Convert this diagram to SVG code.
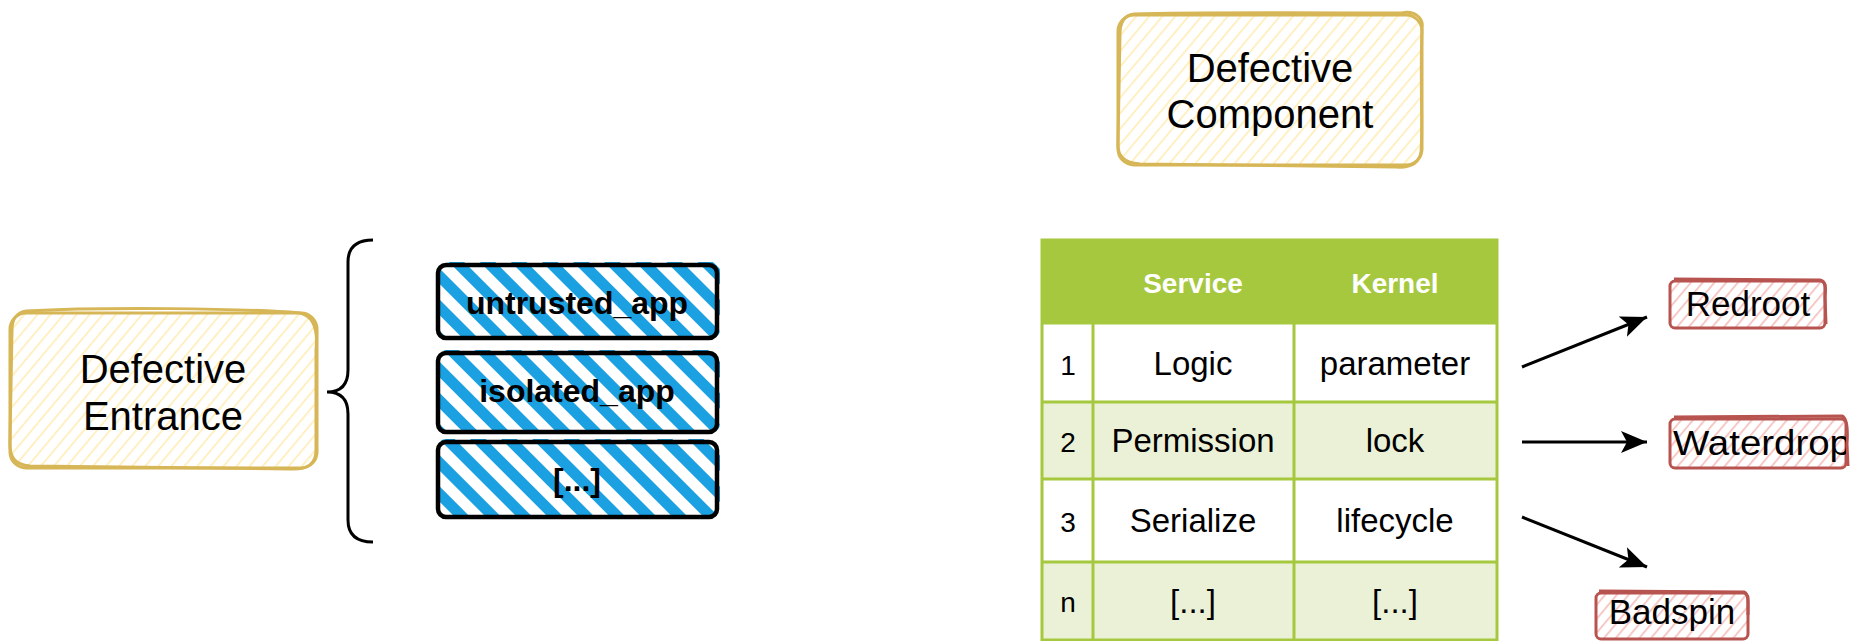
<svg xmlns="http://www.w3.org/2000/svg" width="1852" height="641" viewBox="0 0 1852 641">
  <style>
    .lbl { font-family: "Liberation Sans", Arial, sans-serif; fill: #000; text-anchor: middle; }
    .big { font-size: 40px; }
    .app { font-size: 32px; font-weight: bold; }
    .cell { font-size: 33px; }
    .num { font-size: 28px; }
    .hdr { font-family: "Liberation Sans", Arial, sans-serif; font-size: 28px; font-weight: bold; fill: #ffffff; text-anchor: middle; }
    .tag { font-size: 35px; }
    .yel { fill: none; stroke: #d6b656; stroke-width: 3; }
    .red { fill: none; stroke: #b85450; stroke-width: 3; }
    .blk { fill: none; stroke: #000; stroke-width: 4.5; }
    .grid { stroke: #a6c83f; stroke-width: 3; }
    .conn { fill: none; stroke: #000; stroke-width: 3; }
  </style>
  <defs>
    <pattern id="hatchYellow" width="10" height="10" patternUnits="userSpaceOnUse" patternTransform="rotate(40)">
      <rect width="10" height="10" fill="#ffffff"/>
      <line x1="0" y1="0" x2="0" y2="10" stroke="#ffeebb" stroke-width="3.5"/>
    </pattern>
    <pattern id="hatchRed" width="9" height="9" patternUnits="userSpaceOnUse" patternTransform="rotate(40)">
      <rect width="9" height="9" fill="#ffffff"/>
      <line x1="0" y1="0" x2="0" y2="9" stroke="#f5c2c0" stroke-width="3.5"/>
    </pattern>
    <pattern id="stripeBlue" width="22" height="22" patternUnits="userSpaceOnUse" patternTransform="rotate(-45)">
      <rect width="22" height="22" fill="#ffffff"/>
      <line x1="5.5" y1="0" x2="5.5" y2="22" stroke="#1ba1e2" stroke-width="11"/>
    </pattern>
    <marker id="arrowHead" markerWidth="28" markerHeight="24" refX="26" refY="11" orient="auto" markerUnits="userSpaceOnUse">
      <path d="M0,0 L26,11 L0,22 L6,11 Z" fill="#000"/>
    </marker>
    <clipPath id="clipWaterdrop">
      <rect x="1670" y="416" width="176" height="54"/>
    </clipPath>
  </defs>

  <!-- Defective Entrance -->
  <g id="defective-entrance">
    <rect x="10" y="313" width="307" height="155" rx="16" fill="url(#hatchYellow)"/>
    <rect x="10" y="313" width="307" height="155" rx="16" class="yel"/>
    <path d="M26,311 C100,307 240,308 300,313 C314,316 318,330 316,350 L316,450 C316,464 308,470 290,469 L30,466 C14,465 9,456 10,440 L12,330 C12,318 18,312 26,311" class="yel"/>
    <text class="lbl big" x="163" y="383">Defective</text>
    <text class="lbl big" x="163" y="430">Entrance</text>
  </g>

  <!-- Brace grouping the entrance apps -->
  <g id="brace">
    <path d="M373,240 Q348,240 348,262 L348,370 Q348,392 327,392 Q348,392 348,414 L348,520 Q348,542 373,542" fill="none" stroke="#000" stroke-width="3"/>
  </g>

  <!-- Entrance apps -->
  <g id="app-untrusted">
    <rect x="438" y="262" width="282" height="76" rx="8" fill="url(#stripeBlue)"/>
    <rect x="438" y="265" width="279" height="73" rx="8" class="blk"/>
    <text class="lbl app" x="577" y="314">untrusted_app</text>
  </g>
  <g id="app-isolated">
    <rect x="438" y="350" width="282" height="82" rx="8" fill="url(#stripeBlue)"/>
    <rect x="438" y="353" width="279" height="79" rx="8" class="blk"/>
    <text class="lbl app" x="577" y="402">isolated_app</text>
  </g>
  <g id="app-more">
    <rect x="438" y="439" width="282" height="78" rx="8" fill="url(#stripeBlue)"/>
    <rect x="438" y="442" width="279" height="75" rx="8" class="blk"/>
    <text class="lbl app" x="577" y="491">[...]</text>
  </g>

  <!-- Defective Component -->
  <g id="defective-component">
    <rect x="1118" y="15" width="304" height="150" rx="16" fill="url(#hatchYellow)"/>
    <rect x="1118" y="15" width="304" height="150" rx="16" class="yel"/>
    <path d="M1134,14 C1200,12 1340,13 1402,13 C1414,10 1424,18 1422,28 C1420,80 1423,130 1421,152 C1419,164 1410,168 1396,167 L1140,164 C1124,163 1117,156 1118,142 L1120,34 C1120,20 1126,15 1134,14" class="yel"/>
    <text class="lbl big" x="1270" y="82">Defective</text>
    <text class="lbl big" x="1270" y="128">Component</text>
  </g>

  <!-- Component table -->
  <g id="component-table">
    <rect x="1042" y="240" width="455" height="83" fill="#a6c83f"/>
    <rect x="1042" y="323" width="455" height="79" fill="#ffffff"/>
    <rect x="1042" y="402" width="455" height="77" fill="#ebf1d6"/>
    <rect x="1042" y="479" width="455" height="83" fill="#ffffff"/>
    <rect x="1042" y="562" width="455" height="78" fill="#ebf1d6"/>
    <g class="grid">
      <rect x="1042" y="240" width="455" height="400" fill="none"/>
      <line x1="1093" y1="240" x2="1093" y2="640"/>
      <line x1="1294" y1="240" x2="1294" y2="640"/>
      <line x1="1042" y1="323" x2="1497" y2="323"/>
      <line x1="1042" y1="402" x2="1497" y2="402"/>
      <line x1="1042" y1="479" x2="1497" y2="479"/>
      <line x1="1042" y1="562" x2="1497" y2="562"/>
    </g>
    <text class="hdr" x="1193" y="293">Service</text>
    <text class="hdr" x="1395" y="293">Kernel</text>

    <text class="lbl num" x="1068" y="375">1</text>
    <text class="lbl cell" x="1193" y="375">Logic</text>
    <text class="lbl cell" x="1395" y="375">parameter</text>

    <text class="lbl num" x="1068" y="452">2</text>
    <text class="lbl cell" x="1193" y="452">Permission</text>
    <text class="lbl cell" x="1395" y="452">lock</text>

    <text class="lbl num" x="1068" y="532">3</text>
    <text class="lbl cell" x="1193" y="532">Serialize</text>
    <text class="lbl cell" x="1395" y="532">lifecycle</text>

    <text class="lbl num" x="1068" y="612">n</text>
    <text class="lbl cell" x="1193" y="613">[...]</text>
    <text class="lbl cell" x="1395" y="613">[...]</text>
  </g>

  <!-- Connectors -->
  <g id="connectors">
    <line x1="1522" y1="367" x2="1647" y2="317" class="conn" marker-end="url(#arrowHead)"/>
    <line x1="1522" y1="442" x2="1647" y2="442" class="conn" marker-end="url(#arrowHead)"/>
    <line x1="1522" y1="517" x2="1647" y2="567" class="conn" marker-end="url(#arrowHead)"/>
  </g>

  <!-- Exploit labels -->
  <g id="redroot">
    <rect x="1670" y="281" width="155" height="47" rx="5" fill="url(#hatchRed)"/>
    <rect x="1670" y="281" width="155" height="47" rx="5" class="red"/>
    <path d="M1674,279 L1820,280 C1826,281 1826,288 1825,296 L1826,324" class="red"/>
    <text class="lbl tag" x="1748" y="316">Redroot</text>
  </g>
  <g id="waterdrop">
    <rect x="1670" y="419" width="176" height="49" rx="5" fill="url(#hatchRed)"/>
    <rect x="1670" y="419" width="176" height="49" rx="5" class="red"/>
    <path d="M1674,417 L1842,416 C1847,418 1848,430 1847,444 L1848,466" class="red"/>
    <g clip-path="url(#clipWaterdrop)">
      <text class="lbl tag" x="1673" y="455" style="text-anchor:start" textLength="178" lengthAdjust="spacingAndGlyphs">Waterdrop</text>
    </g>
  </g>
  <g id="badspin">
    <rect x="1596" y="593" width="152" height="46" rx="5" fill="url(#hatchRed)"/>
    <rect x="1596" y="593" width="152" height="46" rx="5" class="red"/>
    <path d="M1599,591 L1744,592 C1749,594 1748,604 1748,615" class="red"/>
    <text class="lbl tag" x="1672" y="624">Badspin</text>
  </g>
</svg>
